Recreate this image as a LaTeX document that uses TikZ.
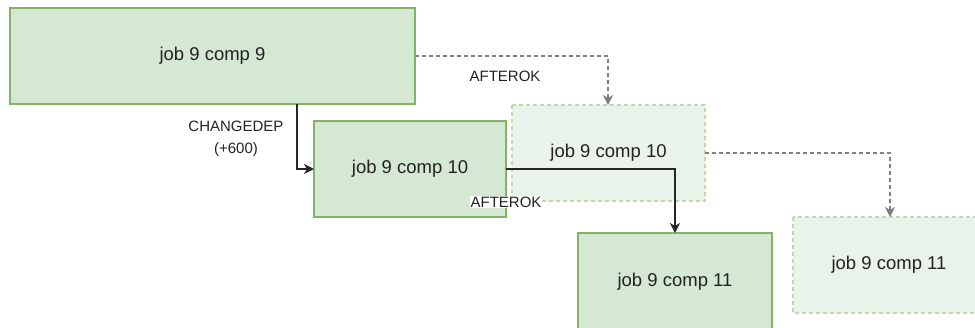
\documentclass[tikz,border=0pt]{standalone}
\usepackage{fontspec}
\setmainfont{Liberation Sans}
\usetikzlibrary{arrows.meta}
\definecolor{gfill}{HTML}{D5E8D4}
\definecolor{gline}{HTML}{82B366}
\definecolor{lfill}{HTML}{EAF3E9}
\definecolor{lline}{HTML}{C1D9B3}
\definecolor{txt}{HTML}{222222}
\definecolor{dgray}{HTML}{808080}
\tikzset{
  solidbox/.style={draw=gline, fill=gfill, line width=1.3pt},
  ghostbox/.style={draw=lline, fill=lfill, dash pattern=on 4pt off 3pt, line width=1.3pt},
  boxtext/.style={font=\fontsize{18.5}{22}\selectfont, text=txt},
  solidarrow/.style={draw=black!85, line width=1.6pt, -{Stealth[length=10pt,width=10pt,inset=3pt]}},
  dasharrow/.style={draw=dgray, line width=1.2pt, dash pattern=on 4pt off 3pt, -{Stealth[length=10pt,width=10pt,inset=3pt]}},
  lbl/.style={font=\fontsize{15}{22}\selectfont, text=txt, align=center, inner sep=1pt}
}
\begin{document}
\begin{tikzpicture}[x=1pt,y=-1pt]
\useasboundingbox (0,0) rectangle (975,327);
\begin{scope}
\clip (0,0) rectangle (975,327);
\path[solidbox] (10,8) rectangle (415,104);
\node[boxtext] (a) at (212.5,56) {job 9 comp 9};
\path[solidbox] (314,121) rectangle (506,217);
\node[boxtext] (b) at (410,169) {job 9 comp 10};
\path[ghostbox] (512,105) rectangle (705,201);
\node[boxtext] (c) at (608.5,153) {job 9 comp 10};
\path[solidbox] (578,233) rectangle (772,331);
\node[boxtext] (d) at (675,282) {job 9 comp 11};
\path[ghostbox] (793,217) rectangle (985,313);
\node[boxtext] (e) at (889,265) {job 9 comp 11};
\end{scope}
\coordinate (aB) at (297,104);
\coordinate (bL) at (314,169);
\coordinate (aR) at (415,56);
\coordinate (cT) at (608,105);
\coordinate (bR) at (506,169);
\coordinate (dT) at (675,233);
\coordinate (cR) at (705,153);
\coordinate (eT) at (890,217);
\draw[solidarrow] (aB) |- (bL);
\draw[dasharrow] (aR) -| (cT);
\draw[solidarrow] (bR) -| (dT);
\draw[dasharrow] (cR) -| (eT);
\node[lbl] (l1) at (236,139) {CHANGEDEP\\(+600)};
\node[lbl] (l2) at (505,76) {AFTEROK};
\node[lbl, fill=white] (l3) at (506,202) {AFTEROK};
\end{tikzpicture}
\end{document}
